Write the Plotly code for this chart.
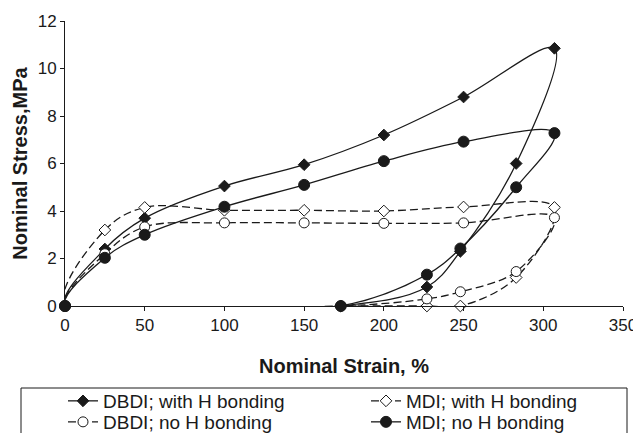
import plotly.graph_objects as go

# Nominal strain (%) and stress (MPa): loading path, unloading path, back to origin
dbdi_h_x = [0, 25, 50, 100, 150, 200, 250, 307, 283, 248, 227, 173, 0]
dbdi_h_y = [0, 2.4, 3.7, 5.05, 5.95, 7.2, 8.8, 10.85, 6.0, 2.3, 0.8, 0, 0]

mdi_h_x = [0, 25, 50, 100, 150, 200, 250, 307, 283, 248, 227, 173, 0]
mdi_h_y = [0, 3.2, 4.15, 4.03, 4.03, 4.0, 4.17, 4.15, 1.2, 0, 0, 0, 0]

dbdi_noh_x = [0, 25, 50, 100, 150, 200, 250, 307, 283, 248, 227, 173, 0]
dbdi_noh_y = [0, 2.2, 3.33, 3.5, 3.5, 3.48, 3.5, 3.72, 1.45, 0.6, 0.3, 0, 0]

mdi_noh_x = [0, 25, 50, 100, 150, 200, 250, 307, 283, 248, 227, 173, 0]
mdi_noh_y = [0, 2.03, 3.0, 4.18, 5.1, 6.1, 6.92, 7.28, 5.0, 2.42, 1.32, 0, 0]

x_ticks = [0, 50, 100, 150, 200, 250, 300, 350]
y_ticks = [0, 2, 4, 6, 8, 10, 12]

INK = "#1a1a1a"
FONT = "Liberation Sans, Arial, sans-serif"

fig = go.Figure()

def add(name, xs, ys, symbol, fill, dash, legend, msize):
    fig.add_trace(go.Scatter(
        x=xs, y=ys, name=name, mode="lines+markers",
        line=dict(color=INK, width=1.3, dash=dash, shape="spline", smoothing=1.0),
        marker=dict(symbol=symbol, size=msize, color=fill,
                    line=dict(color=INK, width=1)),
        cliponaxis=False, legend=legend,
    ))

add("DBDI; with H bonding", dbdi_h_x, dbdi_h_y, "diamond", INK, "solid", "legend", 9)
add("MDI; with H bonding", mdi_h_x, mdi_h_y, "diamond", "white", "8px,4px", "legend", 9)
add("DBDI; no H bonding", dbdi_noh_x, dbdi_noh_y, "circle", "white", "8px,4px", "legend2", 10)
add("MDI; no H bonding", mdi_noh_x, mdi_noh_y, "circle", INK, "solid", "legend2", 11)

# the page has an 8px body margin: the figure is drawn 8px right/down
OFF = 8
W, H = 641 - OFF, 433 - OFF
# plot area in page pixels: x 65..623, y 21..306
L, R, T, B = 65 - OFF, 641 - 623, 21 - OFF, 433 - 306
pw, ph = W - L - R, H - T - B

def px2x(p):  # page pixel -> paper x
    return (p - OFF - L) / pw

def py2y(p):  # page pixel -> paper y
    return (H - B - (p - OFF)) / ph

leg_common = dict(orientation="h", bgcolor="rgba(0,0,0,0)", borderwidth=0,
                  font=dict(family=FONT, size=19, color=INK),
                  entrywidth=258, entrywidthmode="pixels",
                  xanchor="left", yanchor="middle", itemsizing="trace",
                  traceorder="normal")

fig.update_layout(
    width=W, height=H,
    margin=dict(l=L, r=R, t=T, b=B, autoexpand=False),
    paper_bgcolor="white", plot_bgcolor="white",
    font=dict(family=FONT, color=INK),
    showlegend=True,
    legend=dict(x=px2x(63), y=py2y(401), **leg_common),
    legend2=dict(x=px2x(63), y=py2y(422), **leg_common),
    xaxis=dict(
        range=[0, 350], tickvals=x_ticks, ticktext=[str(v) for v in x_ticks],
        showgrid=False, zeroline=False, showline=True, linecolor=INK, linewidth=1,
        ticks="outside", ticklen=4, tickcolor=INK, ticklabeloverflow="allow",
        tickfont=dict(family=FONT, size=17, color=INK),
        title=dict(text="<b>Nominal Strain, %</b>", standoff=24,
                   font=dict(family=FONT, size=20, color=INK)),
        automargin=False,
    ),
    yaxis=dict(
        range=[0, 12], tickvals=y_ticks, ticktext=[str(v) for v in y_ticks],
        showgrid=False, zeroline=False, showline=True, linecolor=INK, linewidth=1,
        ticks="outside", ticklen=4, tickcolor=INK,
        tickfont=dict(family=FONT, size=17, color=INK),
        title=dict(text="<b>Nominal Stress,MPa</b>", standoff=4,
                   font=dict(family=FONT, size=20, color=INK)),
        automargin=False,
    ),
    shapes=[dict(type="rect", xref="paper", yref="paper",
                 x0=px2x(21), x1=px2x(627), y0=py2y(388), y1=py2y(445),
                 line=dict(color=INK, width=1), fillcolor="rgba(0,0,0,0)",
                 layer="above")],
)

fig.write_html("out.html")
